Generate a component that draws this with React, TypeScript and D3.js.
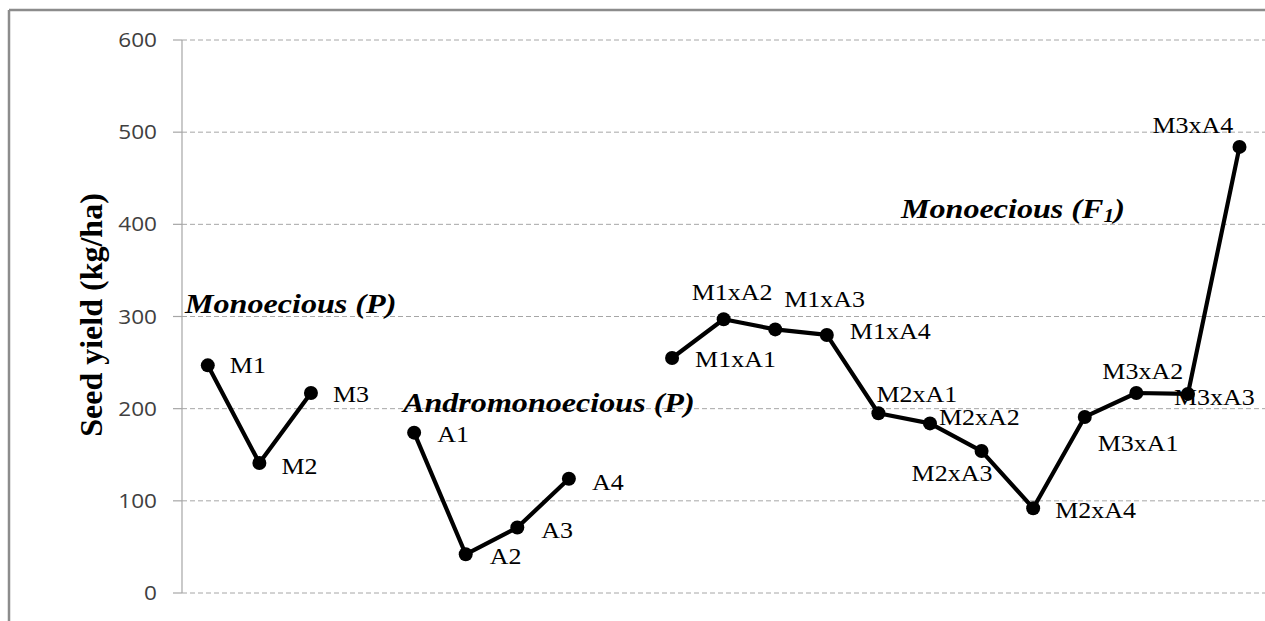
import React from "react";
import * as d3 from "d3";

const categories = [
  "M1", "M2", "M3", "gap1",
  "A1", "A2", "A3", "A4", "gap2",
  "M1xA1", "M1xA2", "M1xA3", "M1xA4",
  "M2xA1", "M2xA2", "M2xA3", "M2xA4",
  "M3xA1", "M3xA2", "M3xA3", "M3xA4",
];
const seedYield: (number | null)[] = [
  247, 141, 217, null,
  174, 42, 71, 124, null,
  255, 297, 286, 280,
  195, 184, 154, 92,
  191, 217, 216, 484,
];
// label offsets (dx, dy) relative to each point
const labelOffsets: ([number, number] | null)[] = [
  [22, 8], [22, 11], [22, 9], null,
  [23, 9], [24, 10], [24, 10], [23, 11], null,
  [23, 9], [-32, -19], [9, -22], [23, 4],
  [-2, -11], [9, 2], [-70, 30], [22, 10],
  [13, 34], [-34, -14], [-14, 11], [-87, -14],
];
const yTicks = [0, 100, 200, 300, 400, 500, 600];
const groupLabels = [
  { text: "Monoecious (P)", sub: "", x: 185, y: 313 },
  { text: "Andromonoecious (P)", sub: "", x: 403, y: 412 },
  { text: "Monoecious (F", sub: "1", x: 901, y: 218 },
];
const yTitle = "Seed yield (kg/ha)";

const W = 1265;
const H = 621;
const SX = 1.13;

export default function App() {
  const x = d3.scaleBand<string>().domain(categories).range([182, 1265.3]);
  const y = d3.scaleLinear().domain([0, 600]).range([593, 40]);
  const px = (i: number) => (x(categories[i]) as number) + x.bandwidth() / 2;
  const line = d3
    .line<number | null>()
    .defined((d) => d !== null)
    .x((_, i) => px(i))
    .y((d) => y(d as number));
  const path = line(seedYield) || "";
  const serif = "'Liberation Serif', 'Times New Roman', serif";
  return (
    <svg
      width={W}
      height={H}
      style={{ position: "absolute", left: 0, top: 0, background: "#fff" }}
    >
      <rect x={0} y={0} width={W} height={H} fill="#fff" />
      {/* frame */}
      <line x1={9} y1={10} x2={W} y2={10} stroke="#8c8c8c" strokeWidth={2.5} />
      <line x1={9} y1={10} x2={9} y2={H} stroke="#8c8c8c" strokeWidth={2.5} />
      {/* gridlines */}
      {yTicks.map((t) => (
        <line
          key={"g" + t}
          x1={182}
          x2={W}
          y1={y(t)}
          y2={y(t)}
          stroke="#a6a6a6"
          strokeWidth={1}
          strokeDasharray="5,3"
        />
      ))}
      {/* axis */}
      <line x1={182} x2={182} y1={y(600)} y2={y(0)} stroke="#a6a6a6" strokeWidth={1.2} />
      {yTicks.map((t) => (
        <g key={"t" + t}>
          <line x1={173} x2={182} y1={y(t)} y2={y(t)} stroke="#a6a6a6" strokeWidth={1.2} />
          <text
            transform={`translate(157,${y(t) + 7}) scale(${SX},1)`}
            textAnchor="end"
            fontFamily="'Open Sans', sans-serif"
            fontSize={20}
            fill="#404040"
          >
            {t}
          </text>
        </g>
      ))}
      {/* y title */}
      <text
        transform={`translate(102,315) rotate(-90)`}
        textAnchor="middle"
        fontFamily={serif}
        fontWeight="bold"
        fontSize={32}
        fill="#000"
      >
        {yTitle}
      </text>
      {/* line */}
      <path d={path} fill="none" stroke="#000" strokeWidth={4.2} strokeLinejoin="round" />
      {seedYield.map((v, i) =>
        v === null ? null : (
          <circle key={"c" + i} cx={px(i)} cy={y(v)} r={7} fill="#000" />
        )
      )}
      {/* data labels */}
      {seedYield.map((v, i) => {
        const off = labelOffsets[i];
        if (v === null || !off) return null;
        return (
          <text
            key={"l" + i}
            transform={`translate(${px(i) + off[0]},${y(v) + off[1]}) scale(${SX},1)`}
            fontFamily={serif}
            fontSize={23}
            fill="#000"
          >
            {categories[i]}
          </text>
        );
      })}
      {/* group labels */}
      {groupLabels.map((g) => (
        <text
          key={g.text}
          transform={`translate(${g.x},${g.y}) scale(1.19,1)`}
          fontFamily={serif}
          fontWeight="bold"
          fontStyle="italic"
          fontSize={27}
          fill="#000"
        >
          {g.text}
          {g.sub ? (
            <>
              <tspan fontSize={18} dy={4}>{g.sub}</tspan>
              <tspan dy={-4}>)</tspan>
            </>
          ) : null}
        </text>
      ))}
    </svg>
  );
}
